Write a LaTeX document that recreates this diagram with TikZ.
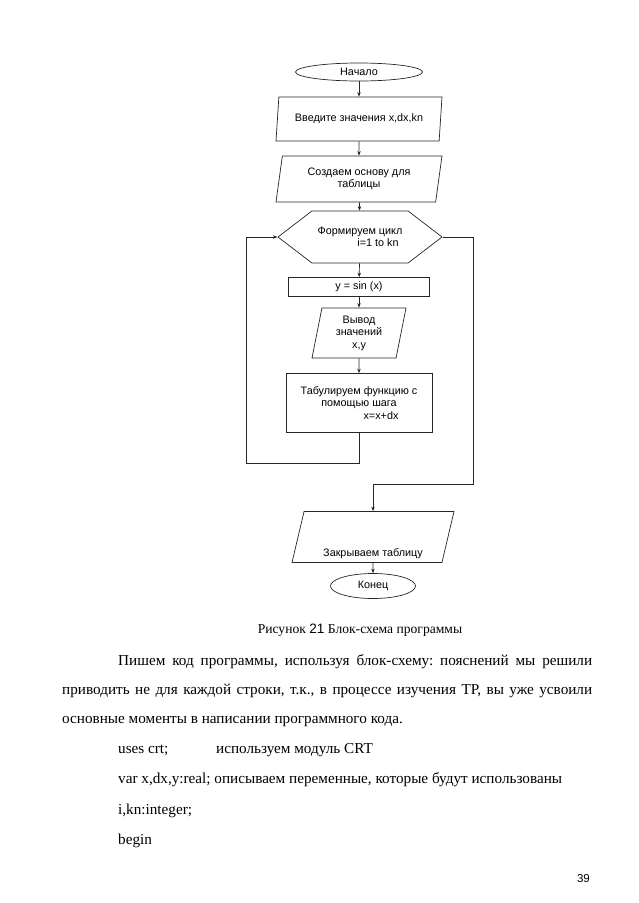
\documentclass[tikz,border=0pt]{standalone}
\usepackage{fontspec}
\setmainfont{Liberation Serif}
\setsansfont{Liberation Sans}
\usetikzlibrary{arrows.meta, shapes.geometric, shapes.symbols}
\frenchspacing

\begin{document}
\begin{tikzpicture}[x=1pt, y=-1pt,
  every node/.style={inner sep=0pt},
  box/.style={draw=black!85, line width=0.7pt, font=\sffamily\fontsize{10.8}{12.5}\selectfont, align=center},
  term/.style={box, ellipse},
  io/.style={box, trapezium, trapezium left angle=74, trapezium right angle=106, trapezium stretches body},
  proc/.style={box, rectangle},
  loopbox/.style={box, signal, signal to=west and east, signal pointer angle=75},
  arr/.style={draw=black!85, line width=0.7pt, -{Stealth[length=4.5pt, width=3.5pt]}},
  txt/.style={anchor=base west, font=\fontsize{15.2}{18}\selectfont}]
\fill[white] (0,0) rectangle (638,903);

\node[term, minimum width=127pt, minimum height=18pt] (start) at (359,72) {Начало};
\node[io, minimum width=166pt, minimum height=44pt] (inputdata) at (359,119) {Введите значения x,dx,kn};
\node[io, minimum width=166pt, minimum height=46pt] (tablehead) at (359,179) {Создаем основу для\\таблицы};
\node[loopbox, minimum width=164pt, minimum height=52pt] (forloop) at (360,237) {Формируем цикл\\\hspace*{36pt}i=1 to kn};
\node[proc, minimum width=141pt, minimum height=19pt] (ysin) at (359,287) {y = sin (x)};
\node[io, minimum width=94pt, minimum height=50pt] (output) at (359,333) {Вывод\\значений\\x,y};
\node[proc, minimum width=146pt, minimum height=59pt] (tabulate) at (359,403) {Табулируем функцию с\\помощью шага\\\hspace*{44pt}x=x+dx};
\node[io, minimum width=162pt, minimum height=51pt, text height=40pt, text depth=2pt] (closetable) at (373,537) {Закрываем таблицу};
\node[term, minimum width=85pt, minimum height=25pt] (stop) at (373,586) {Конец};

\draw[arr] (start) -- (inputdata);
\draw[arr] (inputdata) -- (tablehead);
\draw[arr] (tablehead) -- (forloop);
\draw[arr] (forloop) -- (ysin);
\draw[arr] (ysin) -- (output);
\draw[arr] (output) -- (tabulate);
\coordinate (backcorner) at (246,463);
\draw[arr] (tabulate.south) |- (backcorner) |- (forloop.west);
\coordinate (exitcorner) at (473,484);
\draw[arr] (forloop.east) -| (exitcorner) -| (closetable.north);
\draw[arr] (closetable) -- (stop);

\node[anchor=base, font=\fontsize{13.6}{15}\selectfont] (caption) at (360,633) {Рисунок {\sffamily 21} Блок-схема программы};
\node[txt] (line1) at (118,665) {\makebox[474pt][s]{Пишем код программы, используя блок-схему: пояснений мы решили}};
\node[txt] (line2) at (62,694) {\makebox[530pt][s]{приводить не для каждой строки, т.к., в процессе изучения ТР, вы уже усвоили}};
\node[txt] (line3) at (62,723) {основные моменты в написании программного кода.};
\node[txt] (code1) at (118,753) {uses crt;};
\node[txt] (code1c) at (216,753) {используем модуль CRT};
\node[txt] (code2) at (118,783) {var x,dx,y:real;\ описываем переменные, которые будут использованы};
\node[txt] (code3) at (118,814) {i,kn:integer;};
\node[txt] (code4) at (118,844) {begin};
\node[anchor=base east, font=\sffamily\fontsize{11.5}{13}\selectfont] (pagenum) at (590,882) {39};
\end{tikzpicture}
\end{document}
